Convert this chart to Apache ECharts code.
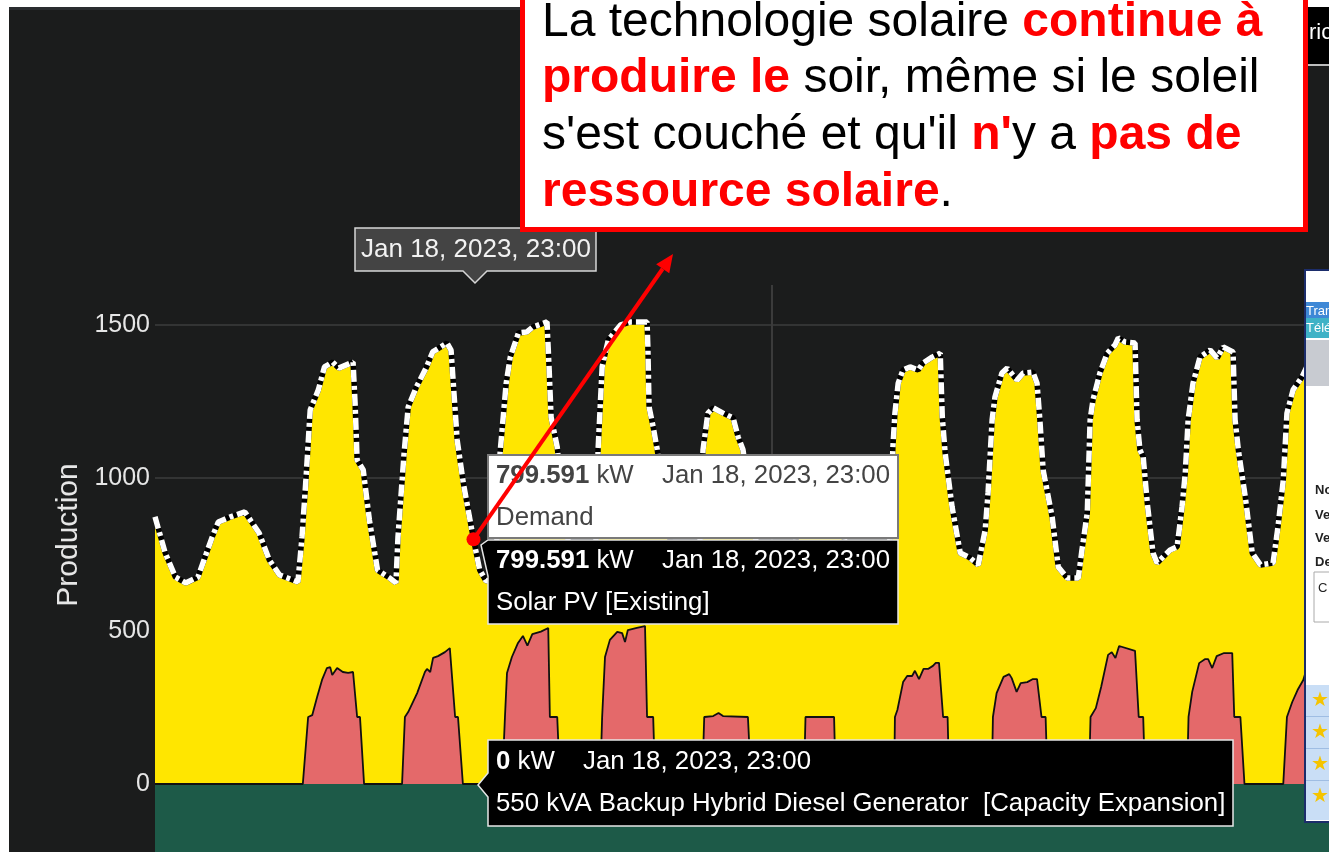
<!DOCTYPE html>
<html>
<head>
<meta charset="utf-8">
<script src="https://cdn.jsdelivr.net/npm/echarts@6/dist/echarts.min.js"></script>
<style>
  html, body { margin: 0; padding: 0; background: #fff; }
  #frame { position: absolute; left: 9px; top: 7px; width: 1320px; height: 845px; background: #1b1c1c; border-top: 3px solid #2a2d30; box-sizing: border-box; }
  #chart { position: absolute; left: 0; top: 0; width: 1329px; height: 852px; }
</style>
</head>
<body>
<div id="frame"></div>
<div id="chart"></div>
<script>
// hours after Jan 15 2023, 17:00 -> kW
const demandPts = [
  [0, 873], [2.5, 755], [5, 676], [7.5, 657], [10.5, 676], [12, 732], [14, 807], [15.5, 856],
  [18.5, 873], [22, 889], [25.5, 820], [28, 732], [30.5, 683], [35, 660], [36, 807], [37, 1003],
  [38, 1222], [40, 1288], [41.5, 1363], [43.5, 1379], [45, 1359], [48.5, 1379], [49, 1245],
  [49.5, 1059], [51, 1026], [52.5, 863], [54.5, 699], [57.5, 673], [59, 657], [59.5, 807],
  [61, 1082], [62, 1232], [64, 1297], [66.5, 1363], [68, 1412], [71.5, 1441], [72.5, 1418],
  [74, 1124], [75.5, 984], [78, 799.591], [79.5, 700], [81, 665], [83, 660], [84, 850],
  [84.5, 1082], [86, 1310], [87, 1395], [89, 1474], [91, 1477], [92.5, 1493], [96, 1510],
  [96.5, 1363], [97, 1199], [98.5, 1101], [100, 900], [102, 720], [104, 680], [107, 665],
  [108, 800], [108.5, 1092], [109.5, 1363], [111, 1451], [114, 1500], [116.5, 1510],
  [120.5, 1510], [120.7, 1428], [121, 1232], [122, 1167], [123, 1092], [125, 900], [127, 720],
  [130, 675], [132, 670], [133.5, 800], [134.2, 1092], [135.4, 1212], [136.7, 1229],
  [139.1, 1212], [141.6, 1196], [142.8, 1134], [144, 1092], [146, 900], [148, 720], [152, 690],
  [156, 700], [157.5, 850], [159, 980], [162, 1010], [165, 1000], [166.5, 960], [168, 850],
  [170, 730], [174, 700], [178, 690], [180, 800], [180.7, 1101], [181.2, 1212], [182, 1310],
  [183.2, 1353], [184.9, 1363], [186.9, 1353], [188.1, 1376], [190.3, 1395], [192.3, 1408],
  [192.8, 1199], [193.5, 1082], [195.2, 905], [197.2, 755], [199.6, 739], [201.6, 716],
  [203.3, 830], [204, 951], [205, 1190], [205.7, 1265], [207.4, 1343], [208.7, 1359],
  [211.1, 1320], [212.6, 1343], [215, 1346], [216, 1310], [216.7, 1190], [217.5, 1026],
  [219.7, 873], [221.2, 709], [223.4, 673], [226.1, 673], [227, 765], [228.3, 886], [229, 1190],
  [229.7, 1255], [231.4, 1343], [233.2, 1408], [235.1, 1435], [235.9, 1458], [237.6, 1444],
  [240, 1441], [240.5, 1190], [241.2, 1092], [242, 1069], [243, 918], [244.4, 755], [245.4, 722],
  [248.6, 765], [250.3, 775], [251.5, 905], [252.3, 1016], [253, 1190], [254.2, 1310],
  [255.9, 1395], [258.4, 1418], [260.1, 1392], [261.6, 1428], [264, 1412], [264.5, 1190],
  [265.3, 1092], [267, 938], [268.7, 755], [270.7, 716], [273.8, 722], [275, 840], [276.3, 993],
  [277.2, 1212], [278.7, 1288], [280.9, 1330], [283, 1390], [286, 1420], [288, 1420]
];

const generatorPts = [
  [0, 0], [36.2, 0], [37.5, 219], [38.5, 225], [39.7, 284], [40.9, 340], [42.1, 379], [42.9, 382],
  [43.4, 356], [44.6, 379], [46, 366], [47.3, 363], [48.5, 366], [49.5, 219], [50.2, 219], [51.2, 0],
  [60.5, 0], [61.2, 219], [62, 235], [64.2, 297], [66.1, 366], [66.6, 376], [67.4, 366], [68.1, 412],
  [69.3, 418], [71, 431], [72.2, 444], [73.5, 219], [74.2, 219], [75.4, 0],
  [85, 0], [85.7, 219], [86.2, 363], [87.4, 415], [88.9, 461], [90.1, 484], [91.2, 452], [92.4, 490],
  [94.5, 498], [96.3, 510], [96.7, 219], [98.5, 219], [99.2, 0],
  [109, 0], [109.5, 219], [110.2, 415], [111.4, 471], [113.2, 497], [114.4, 493], [115.1, 464],
  [115.8, 503], [118, 510], [120, 516], [120.5, 219], [122, 219], [122.5, 0],
  [134, 0], [134.5, 219], [136.7, 222], [138, 232], [139.1, 222], [145.2, 219], [146, 0],
  [158.9, 0], [159.3, 219], [166.3, 219], [166.7, 0],
  [181, 0], [181.2, 219], [181.8, 242], [183.2, 333], [184.2, 353], [185.4, 353], [186.1, 370],
  [187.1, 343], [188.2, 376], [189.3, 376], [190.5, 386], [191.2, 396], [192, 396], [193, 219],
  [194.1, 219], [194.5, 0],
  [204.9, 0], [205.2, 219], [206.1, 297], [207.8, 350], [209.2, 359], [209.8, 346], [211, 301],
  [212, 330], [213.6, 333], [215, 343], [216, 343], [217.1, 219], [218.1, 219], [218.6, 0],
  [228.7, 0], [229.1, 219], [230.4, 248], [231.7, 317], [233.4, 422], [234.3, 431], [235.2, 412],
  [236.1, 451], [240, 435], [240.9, 219], [242, 219], [242.5, 0],
  [252.7, 0], [253.1, 219], [254, 301], [255.7, 395], [257.1, 408], [257.9, 408], [258.9, 379],
  [260, 418], [261.8, 428], [263.8, 428], [264.3, 219], [265.8, 219], [266.8, 0],
  [276.3, 0], [277.2, 219], [278.5, 268], [279.8, 307], [281.2, 340], [283, 420], [286, 430], [288, 430]
];

// below the visible range of the plot
const storagePts = [[0, -300], [288, -300]];

const yTicks = [0, 500, 1000, 1500];
const weekTicks = [Date.UTC(2023, 0, 22)];
const hoverTime = 78; // Jan 18, 2023, 23:00

const T0 = Date.UTC(2023, 0, 15, 17);
const HOUR = 3600 * 1000;
const at = h => T0 + h * HOUR;
const toSeries = pts => pts.map(p => [at(p[0]), p[1]]);

const FONT = '"Liberation Sans", Arial, sans-serif';
const TIP = 25.8; // hover label font size

const chart = echarts.init(document.getElementById('chart'), null, { renderer: 'canvas' });

const option = {
  backgroundColor: 'transparent',
  animation: false,
  grid: { left: 155, right: 0, top: 285, bottom: 0 },
  xAxis: {
    type: 'time',
    min: at(0),
    max: at(287.5),
    axisLine: { show: false },
    axisTick: { show: false, customValues: weekTicks },
    axisLabel: { show: false },
    splitLine: { show: true, lineStyle: { color: '#3c3d3d', width: 1.5 } }
  },
  yAxis: {
    type: 'value',
    min: -222.2,
    max: 1630.7,
    name: 'Production',
    nameLocation: 'middle',
    nameGap: 66,
    nameTextStyle: { color: '#e6e6e6', fontSize: 30, fontFamily: FONT, padding: [0, 0, 0, 67] },
    axisLine: { show: false },
    axisTick: { show: false, customValues: yTicks },
    axisLabel: {
      customValues: yTicks, color: '#e6e6e6', fontSize: 25, fontFamily: FONT, margin: 5,
      formatter: v => String(v)
    },
    splitLine: { show: true, lineStyle: { color: '#3c3d3d', width: 1.5 } }
  },
  series: [
    {
      name: 'Storage',
      type: 'line',
      data: toSeries(storagePts),
      symbol: 'none',
      lineStyle: { width: 0 },
      areaStyle: { color: '#1d5a48', opacity: 1 },
      z: 2
    },
    {
      // PV is stacked on the generator, so its top edge is the demand curve
      name: 'Solar PV [Existing]',
      type: 'line',
      data: toSeries(demandPts),
      symbol: 'none',
      lineStyle: { color: '#000', width: 5.5 },
      areaStyle: { color: '#ffe600', opacity: 1 },
      z: 3
    },
    {
      name: '550 kVA Backup Hybrid Diesel Generator  [Capacity Expansion]',
      type: 'line',
      data: toSeries(generatorPts),
      symbol: 'none',
      lineStyle: { color: '#111', width: 1.8 },
      areaStyle: { color: '#e4696a', opacity: 1 },
      z: 4
    },
    {
      name: 'Demand',
      type: 'line',
      data: toSeries(demandPts),
      symbol: 'none',
      lineStyle: { color: '#fff', width: 5.5, type: [12, 4, 4, 4] },
      z: 5
    }
  ]
};
chart.setOption(option);

// hovered point, used by the callout arrow
const hoverPt = demandPts.find(p => p[0] === hoverTime);
const dot = chart.convertToPixel({ seriesIndex: 3 }, [at(hoverPt[0]), hoverPt[1]]);
const tip = [673, 254];
const dx = tip[0] - dot[0], dy = tip[1] - dot[1];
const len = Math.sqrt(dx * dx + dy * dy);
const ux = dx / len, uy = dy / len;
const base = [tip[0] - 18 * ux, tip[1] - 18 * uy];

function txt(x, y, text, fill, size, extra) {
  return Object.assign({
    type: 'text', x: x, y: y, z: 100,
    style: { text: text, fill: fill, fontSize: size, fontFamily: FONT, verticalAlign: 'middle' }
  }, extra || {});
}
function bold(x, y, text, fill, size) {
  return {
    type: 'text', x: x, y: y, z: 97,
    style: { text: text, fill: fill, fontSize: size, fontWeight: 'bold', fontFamily: FONT, verticalAlign: 'middle' }
  };
}
function rich(x, y, text, fill, size, boldFill) {
  return {
    type: 'text', x: x, y: y, z: 100,
    style: {
      text: text, verticalAlign: 'middle',
      rich: {
        n: { fill: fill, fontSize: size, fontFamily: FONT },
        b: { fill: boldFill || fill, fontSize: size, fontFamily: FONT, fontWeight: 'bold' }
      }
    }
  };
}
function box(points, fill, stroke, lw) {
  return { type: 'polygon', z: 90, shape: { points: points }, style: { fill: fill, stroke: stroke, lineWidth: lw } };
}

const graphics = [
  // hover time label
  box([[355, 228], [596, 228], [596, 271], [487, 271], [475, 283], [463, 271], [355, 271]], '#444', '#d6d6d6', 1.5),
  txt(361, 250, 'Jan 18, 2023, 23:00', '#f2f2f2', 26),

  // Demand tooltip
  box([[488, 455], [898, 455], [898, 538], [488, 538]], '#fff', '#7a7a7a', 2),
  rich(496, 476, '{b|799.591}{n| kW}', '#444', TIP),
  txt(662, 476, 'Jan 18, 2023, 23:00', '#444', TIP),
  txt(496, 518, 'Demand', '#444', TIP),

  // Solar PV tooltip
  box([[488, 540], [898, 540], [898, 624], [488, 624], [488, 576], [481, 545]], '#000', '#e6e6e6', 1.5),
  rich(496, 561, '{b|799.591}{n| kW}', '#fff', TIP),
  txt(662, 561, 'Jan 18, 2023, 23:00', '#fff', TIP),
  txt(496, 603, 'Solar PV [Existing]', '#fff', TIP),

  // generator tooltip
  box([[488, 740], [1233, 740], [1233, 826], [488, 826], [488, 797], [478, 785], [488, 773]], '#000', '#e6e6e6', 1.5),
  rich(496, 762, '{b|0}{n| kW}', '#fff', TIP),
  txt(583, 762, 'Jan 18, 2023, 23:00', '#fff', TIP),
  txt(496, 804, '550 kVA Backup Hybrid Diesel Generator  [Capacity Expansion]', '#fff', TIP),

  // callout arrow
  { type: 'line', z: 110, shape: { x1: dot[0], y1: dot[1], x2: base[0], y2: base[1] }, style: { stroke: '#ff0000', lineWidth: 4 } },
  { type: 'polygon', z: 110, shape: { points: [tip, [base[0] + 8 * uy, base[1] - 8 * ux], [base[0] - 8 * uy, base[1] + 8 * ux]] }, style: { fill: '#ff0000' } },
  { type: 'circle', z: 111, shape: { cx: dot[0], cy: dot[1], r: 7 }, style: { fill: '#ff0000' } },

  // callout box
  { type: 'rect', z: 120, shape: { x: 522.5, y: -10, width: 783, height: 239.5 }, style: { fill: '#fff', stroke: '#ff0000', lineWidth: 5 } },
  Object.assign(rich(542, 23, '{n|La technologie solaire }{b|continue à}', '#000', 48, '#ff0000'), { z: 121 }),
  Object.assign(rich(542, 79, '{b|produire le}{n| soir, même si le soleil}', '#000', 48, '#ff0000'), { z: 121 }),
  Object.assign(rich(542, 136, "{n|s'est couché et qu'il }{b|n'}{n|y a }{b|pas de}", '#000', 48, '#ff0000'), { z: 121 }),
  Object.assign(rich(542, 193, '{b|ressource solaire}{n|.}', '#000', 48, '#ff0000'), { z: 121 }),

  // window chrome at the right edge
  { type: 'rect', z: 95, shape: { x: 1308, y: 7, width: 21, height: 57 }, style: { fill: '#000' } },
  { type: 'rect', z: 95, shape: { x: 1308, y: 64, width: 21, height: 2 }, style: { fill: '#bdbdbd' } },
  txt(1309, 33, 'ric', '#fff', 22, { z: 96 }),

  { type: 'rect', z: 95, shape: { x: 1305, y: 270, width: 30, height: 552 }, style: { fill: '#fff', stroke: '#1c2d6b', lineWidth: 2 } },
  { type: 'rect', z: 96, shape: { x: 1306, y: 302, width: 23, height: 16 }, style: { fill: '#3e88d6' } },
  { type: 'rect', z: 96, shape: { x: 1306, y: 318, width: 23, height: 20 }, style: { fill: '#3fb2c6' } },
  { type: 'rect', z: 96, shape: { x: 1306, y: 340, width: 23, height: 46 }, style: { fill: '#c8cbd1' } },
  txt(1306, 311, 'Tran', '#fff', 13, { z: 97 }),
  txt(1306, 328, 'Téléc', '#fff', 13, { z: 97 }),
  bold(1315, 490, 'No', '#222', 13),
  bold(1315, 515, 'Ve', '#222', 13),
  bold(1315, 538, 'Ve', '#222', 13),
  bold(1315, 562, 'De', '#222', 13),
  { type: 'rect', z: 96, shape: { x: 1314, y: 572, width: 20, height: 50 }, style: { fill: '#fff', stroke: '#aaa', lineWidth: 1 } },
  txt(1318, 588, 'C', '#222', 13, { z: 97 }),
  { type: 'rect', z: 96, shape: { x: 1306, y: 685, width: 23, height: 135 }, style: { fill: '#c9def6' } },
  { type: 'rect', z: 96, shape: { x: 1306, y: 716, width: 23, height: 1 }, style: { fill: '#9fbde3' } },
  { type: 'rect', z: 96, shape: { x: 1306, y: 748, width: 23, height: 1 }, style: { fill: '#9fbde3' } },
  { type: 'rect', z: 96, shape: { x: 1306, y: 780, width: 23, height: 1 }, style: { fill: '#9fbde3' } },
  txt(1311, 700, '★', '#f5c400', 20, { z: 97 }),
  txt(1311, 732, '★', '#f5c400', 20, { z: 97 }),
  txt(1311, 764, '★', '#f5c400', 20, { z: 97 }),
  txt(1311, 796, '★', '#f5c400', 20, { z: 97 })
];

chart.setOption({ graphic: graphics });
</script>
</body>
</html>
